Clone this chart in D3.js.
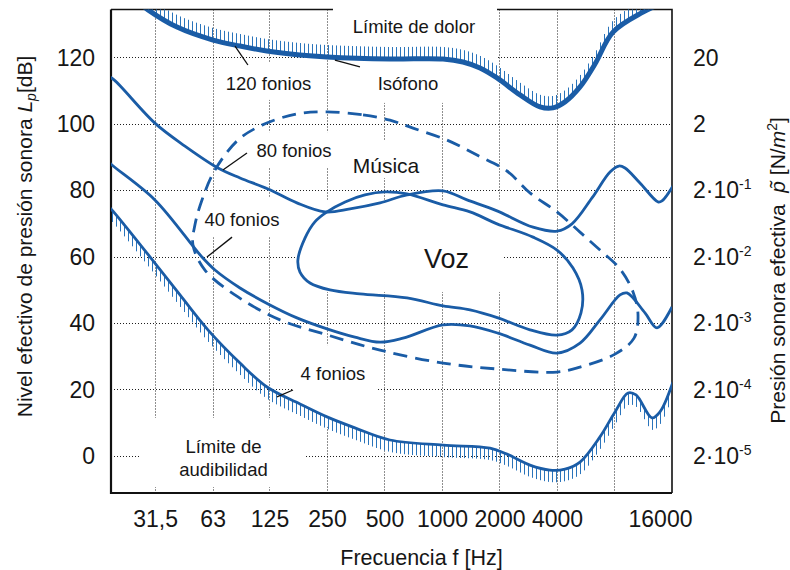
<!DOCTYPE html>
<html>
<head>
<meta charset="utf-8">
<script src="https://cdn.jsdelivr.net/npm/d3@7"></script>
<style>
  body { margin: 0; background: #fff; }
  svg { display: block; }
  text { font-family: "Liberation Sans", Arial, sans-serif; fill: #161616; }
</style>
</head>
<body>
<svg width="790" height="570"></svg>
<script>
// axis values
const freqTicks = [31.5, 63, 125, 250, 500, 1000, 2000, 4000, 16000];
const freqLabels = ["31,5", "63", "125", "250", "500", "1000", "2000", "4000", "16000"];
const freqGrid = [31.5, 63, 125, 250, 500, 1000, 2000, 4000, 8000];
const dbTicks = [0, 20, 40, 60, 80, 100, 120];
const pressureBase = ["2·10", "2·10", "2·10", "2·10", "2·10", "2", "20"];
const pressureExp = ["-5", "-4", "-3", "-2", "-1", "", ""];

// curves as [frequency Hz, level dB]
const painLimit = [[26, 136.5], [28.9, 134.4], [41, 129.2], [63.3, 125.3], [87.6, 123.5], [121, 122.0],
  [180, 120.8], [250, 120.2], [534, 119.6], [1013, 119.6], [1288, 118.7], [1581, 116.9], [1941, 113.9],
  [2562, 108.8], [3258, 105.2], [3810, 104.9], [4405, 106.7], [5278, 111.2], [6324, 118.1],
  [7857, 127.7], [11280, 133.7], [14700, 136.8]];

const phon80 = [[17.8, 114.5], [19.2, 113.3], [31.4, 100.3], [45.1, 93.4], [67.2, 86.8], [87.6, 83.8],
  [122.8, 80.5], [174, 76.3], [244, 73.6], [330, 74.5], [474, 76.3], [656, 78.7], [1013, 79.9],
  [1352, 77.2], [1941, 73.9], [2996, 69.0], [4000, 67.8], [4792, 70.0], [6100, 77.8], [7578, 85.6],
  [8443, 87.4], [9082, 86.8], [10875, 82.3], [13520, 76.6], [14180, 76.9], [16190, 81.4]];

const phon40 = [[17.8, 88.9], [18.7, 87.7], [31.4, 77.2], [55.4, 60.0], [64.8, 56.1], [87.6, 50.7],
  [122.8, 45.9], [174, 41.7], [250, 38.4], [350, 35.9], [474, 34.4], [625, 35.6], [1013, 39.6],
  [1402, 39.3], [1964, 37.1], [2888, 33.5], [4000, 31.1], [5278, 34.1], [6717, 41.1], [8550, 48.6],
  [9299, 49.2], [11552, 43.2], [13352, 38.7], [16000, 45.0]];

const hearingLimit = [[17.8, 75.4], [18.7, 74.2], [31.4, 58.2], [42.5, 48.6], [59.5, 38.1], [87.6, 28.1],
  [121.3, 20.9], [180.5, 15.8], [250, 11.9], [350, 8.6], [534, 4.95], [1013, 3.4],
  [1784, 2.5], [2188, 0.7], [2888, -2.6], [3676, -4.1], [4405, -3.8], [5278, -1.7], [6717, 5.9],
  [8050, 13.4], [9416, 19.1], [10371, 18.5], [12571, 11.6], [13840, 13.4], [16190, 22.4]];

const music = [[250, 103.7], [386, 102.8], [534, 101.2], [705, 98.8], [1062, 95.2], [1525, 90.7],
  [2188, 85.9], [2888, 79.3], [4000, 73.6], [5278, 67.5], [6717, 62.1], [8550, 56.4], [10003, 49.5],
  [10622, 42.6], [10122, 35.6], [8050, 30.8], [5278, 26.9], [4000, 25.4], [1964, 26.3], [1013, 28.1],
  [474, 32.0], [250, 36.6], [141.9, 41.1], [85.5, 48.0], [57.4, 56.1], [49.7, 63.6], [50.9, 69.7],
  [55.4, 77.2], [64.8, 86.2], [85.5, 95.2], [114.2, 99.7], [174, 103.1]];

const speech = [[176, 59.1], [191.7, 65.7], [216, 70.6], [250, 73.6], [311, 76.6], [395, 78.7], [503, 79.6],
  [656, 79.0], [1013, 75.7], [1402, 73.6], [1941, 70.0], [2996, 66.0], [4000, 62.1], [4851, 56.7],
  [5408, 50.1], [5341, 43.2], [4792, 38.1], [4000, 36.5], [2888, 38.1], [1964, 41.7], [1402, 44.1],
  [1013, 45.3], [656, 47.7], [372, 48.9], [259, 50.1], [203.7, 52.2], [180.5, 55.5]];

// annotations (anchors in Hz / dB)
const labels = [
  ["Límite de dolor", 713, 127.4], ["120 fonios", 123.5, 110.3], ["Isófono", 664, 110.3],
  ["80 fonios", 168, 90.1], ["40 fonios", 89.7, 69.3], ["4 fonios", 268.7, 23.0],
  ["Música", 509, 85.3], ["Voz", 1055, 56.7], ["Límite de", 71.8, 1.0], ["audibilidad", 71.8, -5.9]
];
const leaders = [
  [[82.5, 123.5], [96.4, 117.8]], [[275, 119.3], [372, 117.2]], [[95.3, 91.3], [71.3, 86.2]],
  [[79.6, 66.0], [58.8, 60.0]], [[166, 20.0], [136.8, 17.9]]
];
// areas where the grid is blanked behind labels: [f0, f1, db0, db1]
const blanks = [
  [268.7, 1941, 107.3, 140], [70.5, 229.7, 107.3, 118.7], [419.8, 1062, 106.4, 118.7],
  [104.9, 275, 86.8, 97.6], [311, 814.6, 83.8, 95.2], [56.1, 145.3, 66.0, 78.1],
  [180.5, 2086, 49.5, 77.2], [166, 462.3, 8.9, 33.5], [26.2, 189.5, -9.2, 11.6]
];

const margin = { top: 9.5, right: 118, bottom: 77, left: 111 },
      width = 790 - margin.left - margin.right,
      height = 570 - margin.top - margin.bottom;

const blue = "#1a5ca6", hatchBlue = "#2a74bb";

const svg = d3.select("svg");
const g = svg.append("g")
  .attr("transform", `translate(${margin.left},${margin.top})`);

const x = d3.scaleLog().domain([18.5, 16000]).range([0, width]);
const y = d3.scaleLinear().domain([-11, 134.5]).range([height, 0]);

// dotted grid (snapped to whole pixels)
g.append("g").selectAll("line").data(dbTicks).join("line")
  .attr("x1", 0).attr("x2", width)
  .attr("y1", d => Math.round(y(d))).attr("y2", d => Math.round(y(d)));
g.append("g").selectAll("line").data(freqGrid).join("line")
  .attr("x1", d => Math.round(x(d)) + 0.5).attr("x2", d => Math.round(x(d)) + 0.5)
  .attr("y1", 0).attr("y2", height);
g.selectAll("g line")
  .attr("stroke", "#1e1e1e").attr("stroke-width", 1).attr("stroke-dasharray", "1,2");

// top and right frame
g.append("path")
  .attr("d", `M0,0H${width}V${height}`)
  .attr("fill", "none").attr("stroke", "#111").attr("stroke-width", 1.6);

// white areas behind labels
g.append("g").selectAll("rect").data(blanks).join("rect")
  .attr("x", d => x(d[0])).attr("width", d => x(d[1]) - x(d[0]))
  .attr("y", d => y(d[3])).attr("height", d => y(d[2]) - y(d[3]))
  .attr("fill", "#fff");

// left and bottom frame
g.append("path")
  .attr("d", `M0,0V${height}H${width}`)
  .attr("fill", "none").attr("stroke", "#111").attr("stroke-width", 2.2);

svg.append("defs").append("clipPath").attr("id", "plot")
  .append("rect").attr("width", width).attr("height", height);

const hatchLayer = g.append("g").attr("clip-path", "url(#plot)");
const curveLayer = g.append("g").attr("clip-path", "url(#plot)");

const line = d3.line().x(d => x(d[0])).y(d => y(d[1])).curve(d3.curveCatmullRom.alpha(0.5));
const loop = d3.line().x(d => x(d[0])).y(d => y(d[1])).curve(d3.curveCatmullRomClosed.alpha(0.5));

function drawCurve(data, gen, w, dash) {
  return curveLayer.append("path")
    .datum(data)
    .attr("d", gen)
    .attr("fill", "none")
    .attr("stroke", blue)
    .attr("stroke-width", w)
    .attr("stroke-linejoin", "round")
    .attr("stroke-dasharray", dash || null);
}

// vertical hatch strokes hanging off a curve (dir -1 = up, 1 = down)
function hatch(path, dir, len) {
  const node = path.node();
  const total = node.getTotalLength();
  const pts = d3.range(0, total, 0.5).map(l => node.getPointAtLength(l));
  const bis = d3.bisector(p => p.x).left;
  const xs = d3.range(Math.ceil(Math.max(1, pts[0].x)), Math.min(width, pts[pts.length - 1].x), 4);
  const marks = xs.map(px => {
    const i = Math.max(1, Math.min(pts.length - 1, bis(pts, px)));
    const a = pts[i - 1], b = pts[i];
    const t = b.x === a.x ? 0 : (px - a.x) / (b.x - a.x);
    return [px + 0.5, a.y + t * (b.y - a.y)];
  });
  hatchLayer.append("g").selectAll("line").data(marks).join("line")
    .attr("x1", d => d[0]).attr("x2", d => d[0])
    .attr("y1", d => d[1]).attr("y2", d => d[1] + dir * len)
    .attr("stroke", hatchBlue).attr("stroke-width", 1);
}

const pain = drawCurve(painLimit, line, 5);
hatch(pain, -1, 12);
drawCurve(phon80, line, 2.8);
drawCurve(phon40, line, 2.8);
const hearing = drawCurve(hearingLimit, line, 2.8);
hatch(hearing, 1, 12);
drawCurve(music, loop, 2.8, "14,8");
drawCurve(speech, loop, 2.8);

// leader lines
g.append("g").selectAll("line").data(leaders).join("line")
  .attr("x1", d => x(d[0][0])).attr("y1", d => y(d[0][1]))
  .attr("x2", d => x(d[1][0])).attr("y2", d => y(d[1][1]))
  .attr("stroke", "#111").attr("stroke-width", 1.3);

// labels
const bigText = { "Música": 21, "Voz": 27 };
g.append("g").selectAll("text").data(labels).join("text")
  .attr("x", d => x(d[1])).attr("y", d => y(d[2]))
  .attr("text-anchor", "middle")
  .attr("font-size", d => bigText[d[0]] || 18.5)
  .text(d => d[0]);

// axes
const xAxis = g.append("g")
  .attr("transform", `translate(0,${height})`)
  .call(d3.axisBottom(x).tickValues(freqTicks).tickFormat((d, i) => freqLabels[i])
    .tickSize(0).tickPadding(18));
xAxis.select(".domain").remove();
xAxis.attr("font-size", 23);
xAxis.selectAll(".tick text").filter(d => d === 16000).attr("dx", -12);

const yAxis = g.append("g")
  .call(d3.axisLeft(y).tickValues(dbTicks).tickSize(0).tickPadding(16));
yAxis.select(".domain").remove();
yAxis.attr("font-size", 23);

const pAxis = g.append("g")
  .attr("transform", `translate(${width},0)`)
  .call(d3.axisRight(y).tickValues(dbTicks).tickSize(0).tickPadding(21).tickFormat(() => ""));
pAxis.select(".domain").remove();
pAxis.attr("font-size", 23);
pAxis.selectAll(".tick text").each(function (d, i) {
  const t = d3.select(this);
  t.append("tspan").text(pressureBase[i]);
  if (pressureExp[i]) t.append("tspan").attr("font-size", 14).attr("dy", -9).text(pressureExp[i]);
});

// axis titles
svg.append("text")
  .attr("x", 421.5).attr("y", 565)
  .attr("text-anchor", "middle").attr("font-size", 21.5)
  .text("Frecuencia f [Hz]");

const leftTitle = svg.append("text")
  .attr("transform", "rotate(-90)")
  .attr("x", -236.5).attr("y", 32)
  .attr("text-anchor", "middle").attr("font-size", 21);
leftTitle.append("tspan").text("Nivel efectivo de presión sonora ");
leftTitle.append("tspan").attr("font-style", "italic").text("L");
leftTitle.append("tspan").attr("font-style", "italic").attr("font-size", 14).attr("dy", 4).text("p");
leftTitle.append("tspan").attr("dy", -4).text("[dB]");

const rightTitle = svg.append("text")
  .attr("transform", "rotate(-90)")
  .attr("x", -270.5).attr("y", 785)
  .attr("text-anchor", "middle").attr("font-size", 21);
rightTitle.append("tspan").text("Presión sonora efectiva\u00a0\u00a0");
rightTitle.append("tspan").attr("font-style", "italic").text("p\u0303");
rightTitle.append("tspan").text(" [N/");
rightTitle.append("tspan").attr("font-style", "italic").text("m");
rightTitle.append("tspan").attr("font-size", 14).attr("dy", -8).text("2");
rightTitle.append("tspan").attr("dy", 8).text("]");
</script>
</body>
</html>
